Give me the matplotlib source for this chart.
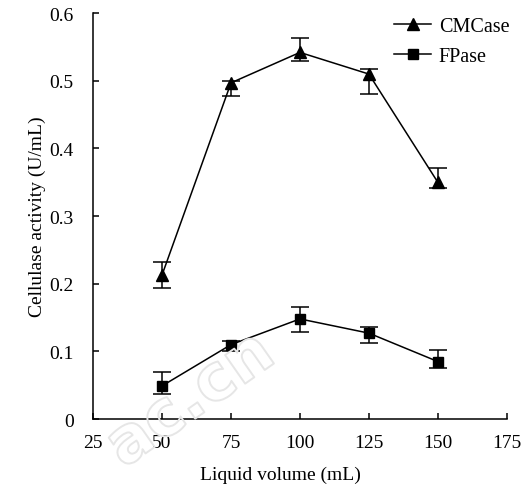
import numpy as np
import matplotlib.pyplot as plt
import matplotlib.patheffects as pe

plt.rcParams['font.family'] = ['Liberation Serif', 'DejaVu Serif']

# liquid volume (mL)
volume = [50, 75, 100, 125, 150]

# CMCase activity (U/mL) with lower / upper error
cmcase = [0.213, 0.497, 0.542, 0.510, 0.350]
cmcase_lo = [0.020, 0.020, 0.013, 0.030, 0.008]
cmcase_hi = [0.019, 0.003, 0.021, 0.008, 0.021]

# FPase activity (U/mL) with lower / upper error
fpase = [0.049, 0.110, 0.148, 0.127, 0.085]
fpase_lo = [0.012, 0.010, 0.019, 0.015, 0.009]
fpase_hi = [0.021, 0.005, 0.018, 0.009, 0.017]

xticks = [25, 50, 75, 100, 125, 150, 175]
yticks = [0, 0.1, 0.2, 0.3, 0.4, 0.5, 0.6]
ylabels = ['0', '0.1', '0.2', '0.3', '0.4', '0.5', '0.6']

fig = plt.figure(figsize=(5.29, 4.89), dpi=100)
ax = fig.add_axes([0.176, 0.141, 0.782, 0.830])

# faint site watermark, outline only
fig.text(0.36, 0.18, 'ac.cn', fontsize=46, fontweight='bold', family='DejaVu Sans',
         rotation=35, ha='center', va='center', color='none', zorder=0,
         path_effects=[pe.Stroke(linewidth=1.4, foreground='#e6e6e6')])
ax.patch.set_alpha(0)

ax.errorbar(volume, cmcase, yerr=[cmcase_lo, cmcase_hi], color='black', lw=1.1,
            marker='^', ms=9, capsize=6.5, elinewidth=1.1, capthick=1.1,
            label='CMCase')
ax.errorbar(volume, fpase, yerr=[fpase_lo, fpase_hi], color='black', lw=1.1,
            marker='s', ms=6.5, capsize=6.5, elinewidth=1.1, capthick=1.1,
            label='FPase')

ax.set_xlim(25, 175)
ax.set_ylim(0, 0.6)
ax.set_xticks(xticks)
ax.set_yticks(yticks)
ax.set_yticklabels(ylabels)
ax.spines['top'].set_visible(False)
ax.spines['right'].set_visible(False)
for s in ['left', 'bottom']:
    ax.spines[s].set_linewidth(1.1)
ax.tick_params(axis='both', direction='in', length=4, width=1.1, labelsize=14)
ax.tick_params(axis='y', pad=14)
ax.tick_params(axis='x', pad=11)

ax.set_xlabel('Liquid volume (mL)', fontsize=14)
ax.xaxis.set_label_coords((280 - 93) / 414, -0.115)
ax.set_ylabel('Cellulase activity (U/mL)', fontsize=14)
ax.yaxis.set_label_coords(-0.115, 0.5)

handles, labels = ax.get_legend_handles_labels()
handles = [h[0] for h in handles]
ax.legend(handles, labels, loc='upper right', bbox_to_anchor=(1.05, 1.035),
          frameon=False, fontsize=14.5, handlelength=1.8, handletextpad=0.4,
          labelspacing=0.55)

fig.savefig('out.png', dpi=100)
